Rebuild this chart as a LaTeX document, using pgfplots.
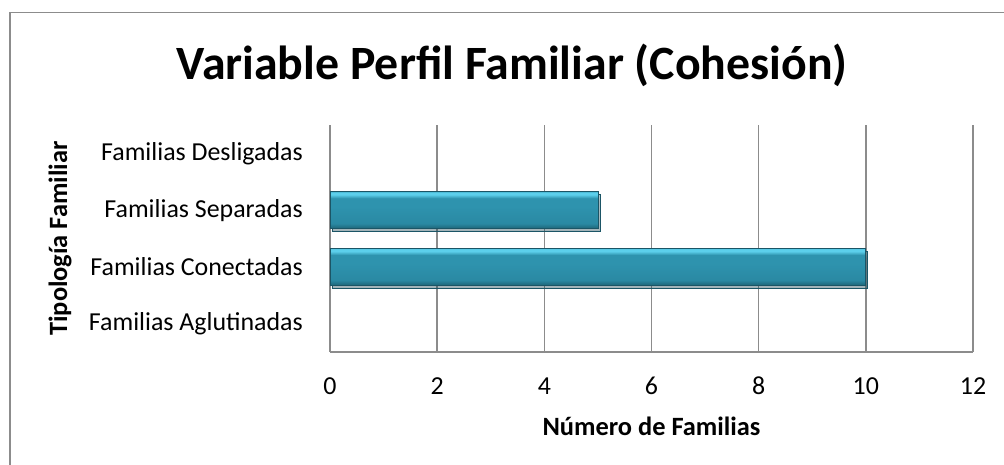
\documentclass[border=0pt]{standalone}
\usepackage{pgfplots}
\pgfplotsset{compat=1.18}
\usepackage{fontspec}
\setmainfont{Carlito}
\definecolor{gridgray}{HTML}{8C8C8C}
\definecolor{bardark}{HTML}{1B5566}
\definecolor{bc1}{HTML}{1E6577}
\definecolor{bc2}{HTML}{2A89A3}
\definecolor{bc3}{HTML}{2E93AE}
\definecolor{bc4}{HTML}{5CCFEB}
\definecolor{bc5}{HTML}{3FAAC6}
\pgfdeclareverticalshading{barshade}{100bp}{color(0bp)=(bc1); color(25bp)=(bc1); color(32bp)=(bc2); color(55bp)=(bc3); color(66bp)=(bc3); color(71bp)=(bc4); color(74bp)=(bc4); color(75bp)=(bc5); color(100bp)=(bc5)}
\begin{document}
\begin{tikzpicture}[x=1bp,y=1bp]
\path[use as bounding box] (0,0) rectangle (1004,465);
\draw[gridgray, line width=1.6bp] (10,0) -- (10,452.5) -- (1004,452.5);
\node[font=\fontsize{48}{56}\selectfont\bfseries, anchor=base] at (512,385) {Variable Perfil Familiar (Cohesión)};
\begin{axis}[
  at={(330bp,113bp)}, anchor=south west,
  width=643bp, height=227bp, scale only axis,
  xbar, bar width=37bp, bar shift=0pt,
  xmin=0, xmax=12, ymin=-0.5, ymax=3.5,
  xtick={0,2,...,12}, ytick={0,1,2,3},
  yticklabels={Familias Aglutinadas, Familias Conectadas, Familias Separadas, Familias Desligadas},
  major tick length=0pt,
  axis x line*=bottom, axis y line*=left,
  axis line style={gridgray, line width=1.4bp, -},
  xmajorgrids, grid style={gridgray, line width=1.4bp},
  font=\fontsize{26}{31}\selectfont,
  /pgf/number format/assume math mode=true,
  xticklabel style={anchor=base, inner sep=0pt, yshift=-43bp, font=\fontsize{26}{31}\selectfont},
  yticklabel style={anchor=east, inner sep=0pt, xshift=-27bp, font=\fontsize{26}{31}\selectfont},
  xlabel={Número de Familias}, ylabel={Tipología Familiar},
  every axis x label/.style={at={(rel axis cs:0.5,0)}, anchor=base, yshift=-84bp, font=\fontsize{26.5}{31}\selectfont\bfseries},
  every axis y label/.style={at={([xshift=-270bp]rel axis cs:0,0.5)}, anchor=center, rotate=90, font=\fontsize{26.5}{31}\selectfont\bfseries},
  clip=false,
  barstyle/.style={draw=bardark, line width=0.8bp, shade, shading=barshade,
    preaction={fill=black, fill opacity=0.22, transform canvas={xshift=2bp,yshift=-3bp}}},
]
% Familias Conectadas = 10, Familias Separadas = 5 (Aglutinadas = 0, Desligadas = 0: no bar)
\addplot[barstyle] coordinates {(10,1)};
\addplot[barstyle] coordinates {(5,2)};
\end{axis}
\end{tikzpicture}
\end{document}
